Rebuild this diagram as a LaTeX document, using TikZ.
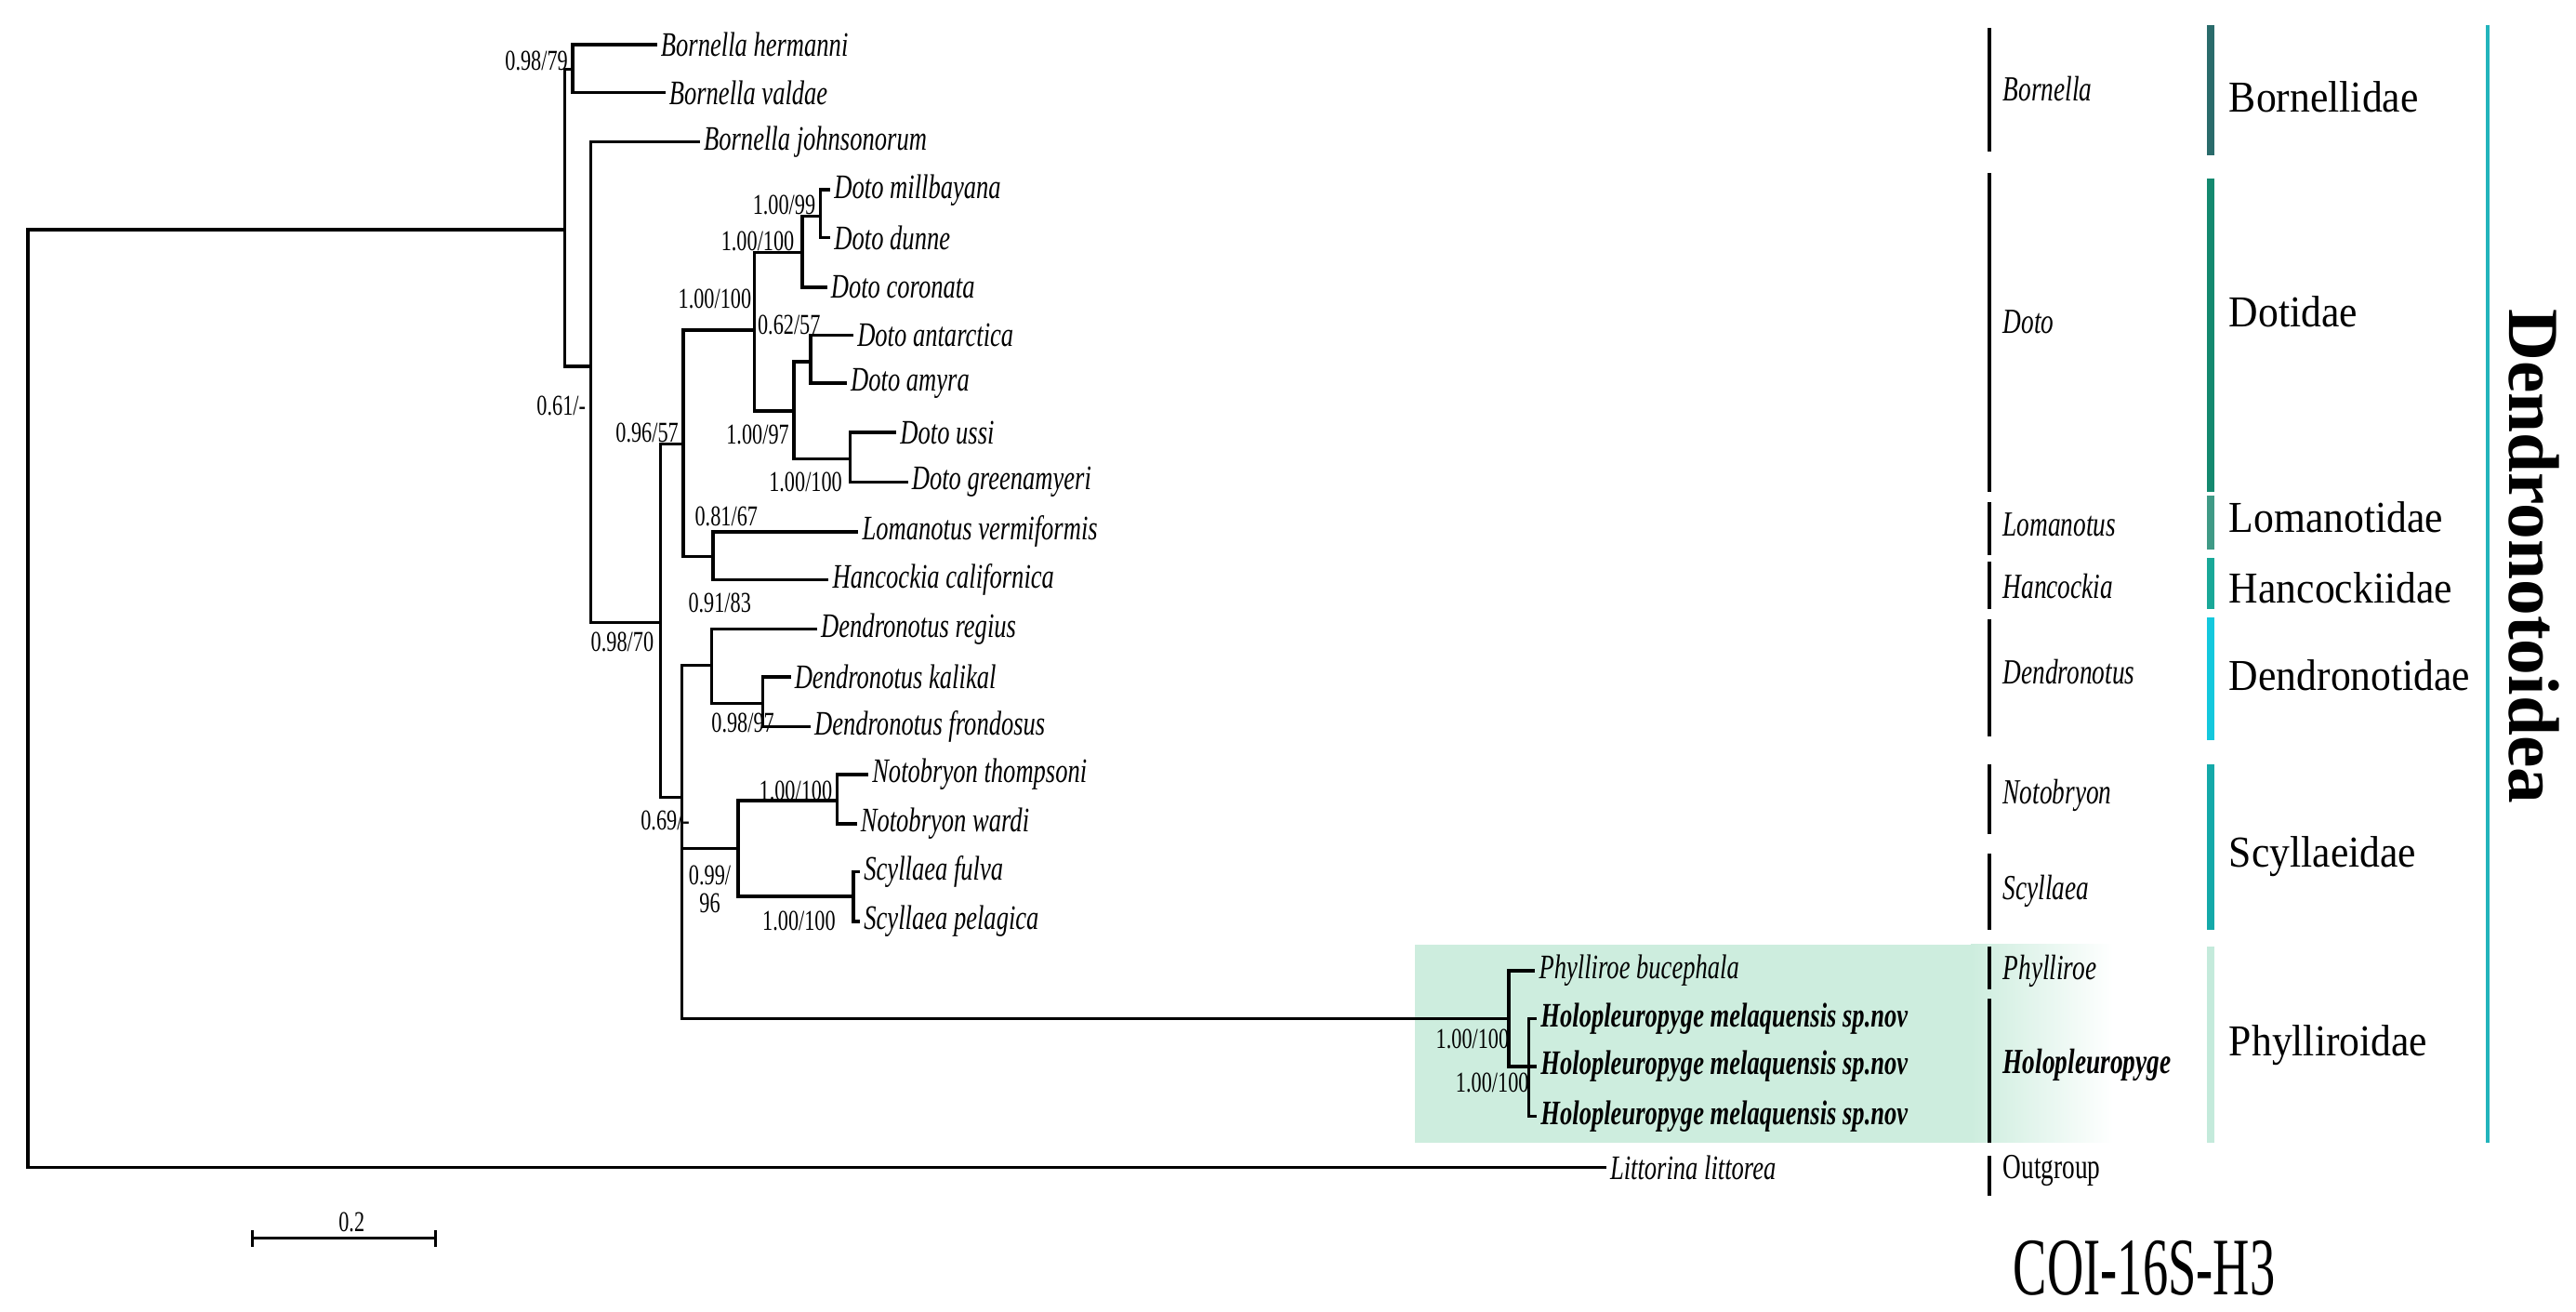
\documentclass[tikz,border=0pt]{standalone}
\usepackage{fontspec}
\setmainfont{Liberation Serif}
\newfontfamily\narrow[FakeStretch=0.72]{Liberation Serif}
\newfontfamily\famfont[FakeStretch=0.92]{Liberation Serif}
\newfontfamily\coifont[FakeStretch=0.62]{Liberation Serif}
\begin{document}
\begin{tikzpicture}[x=0.1776mm,y=-0.1776mm,
  br/.style={line width=1pt},
  leaf/.style={anchor=west,inner sep=1pt,font=\narrow\itshape\fontsize{10.5}{12}\selectfont},
  bleaf/.style={leaf,font=\narrow\bfseries\itshape\fontsize{10.5}{12}\selectfont},
  sup/.style={inner sep=0pt,font=\narrow\fontsize{8.8}{10}\selectfont},
  gen/.style={anchor=west,inner sep=0pt,font=\narrow\itshape\fontsize{10.8}{12}\selectfont},
  famlab/.style={anchor=west,inner sep=0pt,font=\famfont\fontsize{13.5}{15}\selectfont},
  gbar/.style={line width=1.1pt,black},
  fbar/.style={line width=2.3pt}]
\useasboundingbox (0,0) rectangle (1560.5,794.5);
\definecolor{cBor}{HTML}{2A6B6B}
\definecolor{cDot}{HTML}{14896F}
\definecolor{cLom}{HTML}{3F9A86}
\definecolor{cHan}{HTML}{19A898}
\definecolor{cDen}{HTML}{14C8DD}
\definecolor{cScy}{HTML}{14A9A9}
\definecolor{cPhy}{HTML}{C4EADB}
\definecolor{cBig}{HTML}{22B4BC}
\definecolor{boxg}{HTML}{CDEDDE}
% shaded box
\fill[boxg] (857,572) rectangle (1195,692);
\shade[left color=boxg,right color=white] (1194,572) rectangle (1280,692);
% internal node coordinates
\coordinate (root) at (17,424);
\coordinate (A) at (342,139);
\coordinate (Bhv) at (347,42);
\coordinate (B) at (358,222);
\coordinate (C) at (400,377);
\coordinate (D) at (414,269);
\coordinate (F) at (457,200);
\coordinate (G) at (486,153);
\coordinate (Dmd) at (497,131);
\coordinate (H) at (481,249);
\coordinate (I) at (491,219);
\coordinate (J) at (515,278);
\coordinate (K) at (432,337);
\coordinate (L) at (413,483);
\coordinate (M) at (431,403);
\coordinate (N) at (462,426);
\coordinate (O) at (447,514);
\coordinate (P) at (507,485);
\coordinate (Q) at (517,543);
\coordinate (R) at (914,617);
\coordinate (S) at (926,646);
% leaves
\node[leaf] (bh) at (398,27) {Bornella hermanni};
\node[leaf] (bv) at (403,56) {Bornella valdae};
\node[leaf] (bj) at (424,86) {Bornella johnsonorum};
\node[leaf] (dm) at (503,115) {Doto millbayana};
\node[leaf] (dd) at (503,144) {Doto dunne};
\node[leaf] (dc) at (501,174) {Doto coronata};
\node[leaf] (dan) at (517,203) {Doto antarctica};
\node[leaf] (dam) at (513,232) {Doto amyra};
\node[leaf] (du) at (543,262) {Doto ussi};
\node[leaf] (dg) at (550,292) {Doto greenamyeri};
\node[leaf] (lv) at (520,322) {Lomanotus vermiformis};
\node[leaf] (hc) at (502,351) {Hancockia californica};
\node[leaf] (dr) at (495,381) {Dendronotus regius};
\node[leaf] (dk) at (479,410) {Dendronotus kalikal};
\node[leaf] (df) at (491,440) {Dendronotus frondosus};
\node[leaf] (nt) at (526,469) {Notobryon thompsoni};
\node[leaf] (nw) at (519,499) {Notobryon wardi};
\node[leaf] (sf) at (521,528) {Scyllaea fulva};
\node[leaf] (sp) at (521,558) {Scyllaea pelagica};
\node[leaf] (pb) at (930,588) {Phylliroe bucephala};
\node[bleaf] (h1) at (931,617) {Holopleuropyge melaquensis sp.nov};
\node[bleaf] (h2) at (931,646) {Holopleuropyge melaquensis sp.nov};
\node[bleaf] (h3) at (931,676) {Holopleuropyge melaquensis sp.nov};
\node[leaf] (ll) at (973,707) {Littorina littorea};
% branches
\draw[br] (root) |- (A); \draw[br] (root) |- (ll.west);
\draw[br] (A) |- (Bhv); \draw[br] (A) |- (B);
\draw[br] (Bhv) |- (bh.west); \draw[br] (Bhv) |- (bv.west);
\draw[br] (B) |- (bj.west); \draw[br] (B) |- (C);
\draw[br] (C) |- (D); \draw[br] (C) |- (L);
\draw[br] (D) |- (F); \draw[br] (D) |- (K);
\draw[br] (F) |- (G); \draw[br] (F) |- (H);
\draw[br] (G) |- (Dmd); \draw[br] (G) |- (dc.west);
\draw[br] (Dmd) |- (dm.west); \draw[br] (Dmd) |- (dd.west);
\draw[br] (H) |- (I); \draw[br] (H) |- (J);
\draw[br] (I) |- (dan.west); \draw[br] (I) |- (dam.west);
\draw[br] (J) |- (du.west); \draw[br] (J) |- (dg.west);
\draw[br] (K) |- (lv.west); \draw[br] (K) |- (hc.west);
\draw[br] (L) |- (M); \draw[br] (L) |- (O); \draw[br] (L) |- (R);
\draw[br] (M) |- (dr.west); \draw[br] (M) |- (N);
\draw[br] (N) |- (dk.west); \draw[br] (N) |- (df.west);
\draw[br] (O) |- (P); \draw[br] (O) |- (Q);
\draw[br] (P) |- (nt.west); \draw[br] (P) |- (nw.west);
\draw[br] (Q) |- (sf.west); \draw[br] (Q) |- (sp.west);
\draw[br] (R) |- (pb.west); \draw[br] (R) |- (S);
\draw[br] (S) |- (h1.west); \draw[br] (S) |- (h2.west); \draw[br] (S) |- (h3.west);
% support values
\node[sup] (s1) at (325,37) {0.98/79};
\node[sup] (s2) at (340,246) {0.61/-};
\node[sup] (s3) at (377,389) {0.98/70};
\node[sup] (s4) at (392,262) {0.96/57};
\node[sup] (s5) at (433,181) {1.00/100};
\node[sup] (s6) at (459,146) {1.00/100};
\node[sup] (s7) at (475,124) {1.00/99};
\node[sup] (s8) at (478,197) {0.62/57};
\node[sup] (s9) at (459,263) {1.00/97};
\node[sup] (s10) at (488,292) {1.00/100};
\node[sup] (s11) at (440,313) {0.81/67};
\node[sup] (s12) at (436,365) {0.91/83};
\node[sup] (s13) at (450,438) {0.98/97};
\node[sup] (s14) at (482,479) {1.00/100};
\node[sup] (s15) at (403,497) {0.69/-};
\node[sup] (s16) at (430,530) {0.99/};
\node[sup] (s17) at (430,547) {96};
\node[sup] (s18) at (484,558) {1.00/100};
\node[sup] (s19) at (892,629) {1.00/100};
\node[sup] (s20) at (904,656) {1.00/100};
% genus bars
\foreach \a/\b/\t/\y/\n in {17/92/Bornella/54/g1,105/298/Doto/195/g2,304/336/Lomanotus/318/g3,340/369/Hancockia/355/g4,375/446/Dendronotus/407/g5,463/505/Notobryon/482/g6,517/563/Scyllaea/540/g7,573/599/Phylliroe/588/g8}
  {\draw[gbar] (1205,\a) -- (1205,\b); \node[gen] (\n) at (1213,\y) {\t};}
\draw[gbar] (1205,605) -- (1205,692);
\node[gen,font=\narrow\bfseries\itshape\fontsize{10.8}{12}\selectfont] (g9) at (1213,645) {Holopleuropyge};
\draw[gbar] (1205,700) -- (1205,724);
\node[gen,font=\narrow\fontsize{10.8}{12}\selectfont] (g10) at (1213,709) {Outgroup};
% family bars
\draw[fbar,cBor] (1339,15) -- (1339,94); \node[famlab] (f1) at (1350,59) {Bornellidae};
\draw[fbar,cDot] (1339,108) -- (1339,298); \node[famlab] (f2) at (1350,189) {Dotidae};
\draw[fbar,cLom] (1339,300) -- (1339,333); \node[famlab] (f3) at (1350,313) {Lomanotidae};
\draw[fbar,cHan] (1339,338) -- (1339,369); \node[famlab] (f4) at (1350,356) {Hancockiidae};
\draw[fbar,cDen] (1339,374) -- (1339,448); \node[famlab] (f5) at (1350,409) {Dendronotidae};
\draw[fbar,cScy] (1339,463) -- (1339,563); \node[famlab] (f6) at (1350,519) {Scyllaeidae};
\draw[fbar,cPhy] (1339,573) -- (1339,692); \node[famlab] (f7) at (1350,633) {Phylliroidae};
% superfamily
\draw[line width=1.2pt,cBig] (1507,15) -- (1507,692);
\node[rotate=-90,inner sep=0pt,font=\bfseries\fontsize{22}{24}\selectfont] (sfam) at (1535,337) {Dendronotoidea};
% scale bar
\coordinate (sb1) at (153,750); \coordinate (sb2) at (264,750);
\draw[line width=0.8pt] (sb1) -- (sb2);
\draw[line width=0.8pt] (153,745) -- (153,755);
\draw[line width=0.8pt] (264,745) -- (264,755);
\node[sup] (sbl) at (213,740) {0.2};
\node[inner sep=0pt,font=\coifont\fontsize{25}{28}\selectfont] (title) at (1299,768) {COI-16S-H3};
\end{tikzpicture}
\end{document}
